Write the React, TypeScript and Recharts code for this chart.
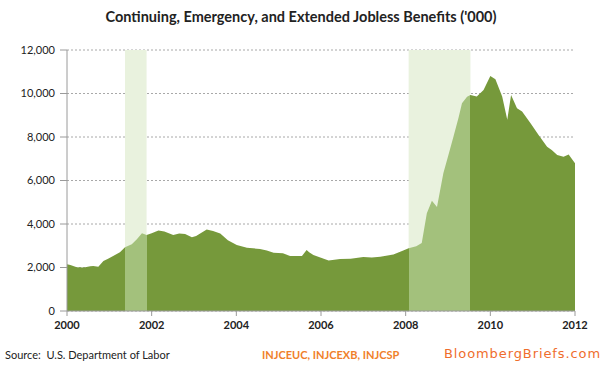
import React from 'react';
import {
  AreaChart,
  Area,
  XAxis,
  YAxis,
  CartesianGrid,
  ReferenceArea,
} from 'recharts';

// decimal years and benefit counts ('000)
const dates = [
  2000.0, 2000.08, 2000.23, 2000.4, 2000.55, 2000.62, 2000.74, 2000.86, 2000.97,
  2001.09, 2001.25, 2001.37, 2001.53, 2001.65, 2001.77, 2001.88, 2002.0, 2002.16,
  2002.3, 2002.51, 2002.65, 2002.79, 2002.95, 2003.05, 2003.3, 2003.45, 2003.62,
  2003.8, 2004.01, 2004.25, 2004.56, 2004.72, 2004.88, 2005.1, 2005.27, 2005.55,
  2005.66, 2005.72, 2005.82, 2006.0, 2006.18, 2006.45, 2006.7, 2007.0, 2007.2,
  2007.4, 2007.71, 2007.9, 2008.07, 2008.25, 2008.38, 2008.5, 2008.62, 2008.74,
  2008.89, 2009.0, 2009.13, 2009.25, 2009.33, 2009.45, 2009.53, 2009.68, 2009.84,
  2010.0, 2010.12, 2010.28, 2010.4, 2010.49, 2010.63, 2010.75, 2010.95, 2011.14,
  2011.34, 2011.45, 2011.58, 2011.73, 2011.85, 2012.0,
];

const benefits = [
  2150, 2120, 2010, 2000, 2060, 2070, 2040, 2300, 2400,
  2530, 2700, 2930, 3070, 3300, 3570, 3500, 3580, 3700,
  3650, 3500, 3560, 3540, 3390, 3450, 3750, 3680, 3560,
  3250, 3030, 2910, 2850, 2780, 2680, 2650, 2530, 2530,
  2800, 2700, 2580, 2450, 2320, 2390, 2400, 2480, 2460,
  2500, 2600, 2750, 2880, 2980, 3130, 4490, 5070, 4780,
  6330, 7100, 8020, 8900, 9550, 9850, 9930, 9860, 10160,
  10810, 10650, 9860, 8790, 9930, 9320, 9170, 8630, 8090,
  7550, 7400, 7170, 7090, 7200, 6790,
];

// recession periods (start, end) in decimal years
const recessions: [number, number][] = [
  [2001.37, 2001.88],
  [2008.07, 2009.53],
];

const yTicks = [0, 2000, 4000, 6000, 8000, 10000, 12000];
const xTicks = [2000, 2002, 2004, 2006, 2008, 2010, 2012];

const data = dates.map((t, i) => ({ t, v: benefits[i] }));

const DARK = '#76993b';
const LIGHT = '#a3c17c';
const BAND = '#e9f2de';
const X0 = 2000;
const X1 = 2012;

const off = (y: number) => `${(((y - X0) / (X1 - X0)) * 100).toFixed(2)}%`;

const fmt = (v: number) => v.toLocaleString('en-US');

export default function App() {
  return (
    <div style={{ position: 'absolute', left: 0, top: 0, width: 600, height: 369, background: '#fff', fontFamily: 'Lato, sans-serif' }}>
      <div style={{ position: 'absolute', left: 0, top: 8, width: 602, textAlign: 'center', fontWeight: 700, fontSize: 14.5, color: '#222' }}>
        Continuing, Emergency, and Extended Jobless Benefits ('000)
      </div>
      <AreaChart width={600} height={369} data={data} margin={{ top: 50, right: 25, bottom: 28, left: 0 }}>
        <defs>
          <linearGradient id="recessionFill" x1="0" y1="0" x2="1" y2="0">
            <stop offset="0%" stopColor={DARK} />
            {recessions.map(([a, b], i) => (
              <React.Fragment key={i}>
                <stop offset={off(a)} stopColor={DARK} />
                <stop offset={off(a)} stopColor={LIGHT} />
                <stop offset={off(b)} stopColor={LIGHT} />
                <stop offset={off(b)} stopColor={DARK} />
              </React.Fragment>
            ))}
            <stop offset="100%" stopColor={DARK} />
          </linearGradient>
        </defs>
        <CartesianGrid vertical={false} stroke="#a8a8a8" strokeDasharray="2 2" />
        {recessions.map(([a, b], i) => (
          <ReferenceArea key={i} x1={a} x2={b} y1={0} y2={12000} fill={BAND} fillOpacity={1} stroke="none" />
        ))}
        <XAxis
          dataKey="t"
          type="number"
          domain={[X0, X1]}
          ticks={xTicks}
          height={30}
          tickSize={5}
          tickMargin={5}
          stroke="#9a9a9a"
          tick={{ fill: '#222', fontSize: 11, fontWeight: 700, fontFamily: 'Lato, sans-serif' }}
        />
        <YAxis
          domain={[0, 12000]}
          ticks={yTicks}
          width={67}
          tickSize={7}
          tickMargin={5}
          stroke="#9a9a9a"
          tickFormatter={fmt}
          tick={{ fill: '#222', fontSize: 11, fontFamily: 'Lato, sans-serif' }}
        />
        <Area
          type="linear"
          dataKey="v"
          stroke="none"
          fill="url(#recessionFill)"
          fillOpacity={1}
          isAnimationActive={false}
        />
      </AreaChart>
      <div style={{ position: 'absolute', left: 5, top: 348, fontSize: 11, color: '#222' }}>
        Source:&nbsp; U.S. Department of Labor
      </div>
      <div style={{ position: 'absolute', left: 262, top: 348, fontSize: 11, fontWeight: 700, color: '#f07f2a' }}>
        INJCEUC, INJCEXB, INJCSP
      </div>
      <div style={{ position: 'absolute', left: 444, top: 346, fontSize: 13, letterSpacing: 0.9, color: '#ef6d2d', fontFamily: 'DejaVu Sans, sans-serif' }}>
        BloombergBriefs.com
      </div>
    </div>
  );
}
